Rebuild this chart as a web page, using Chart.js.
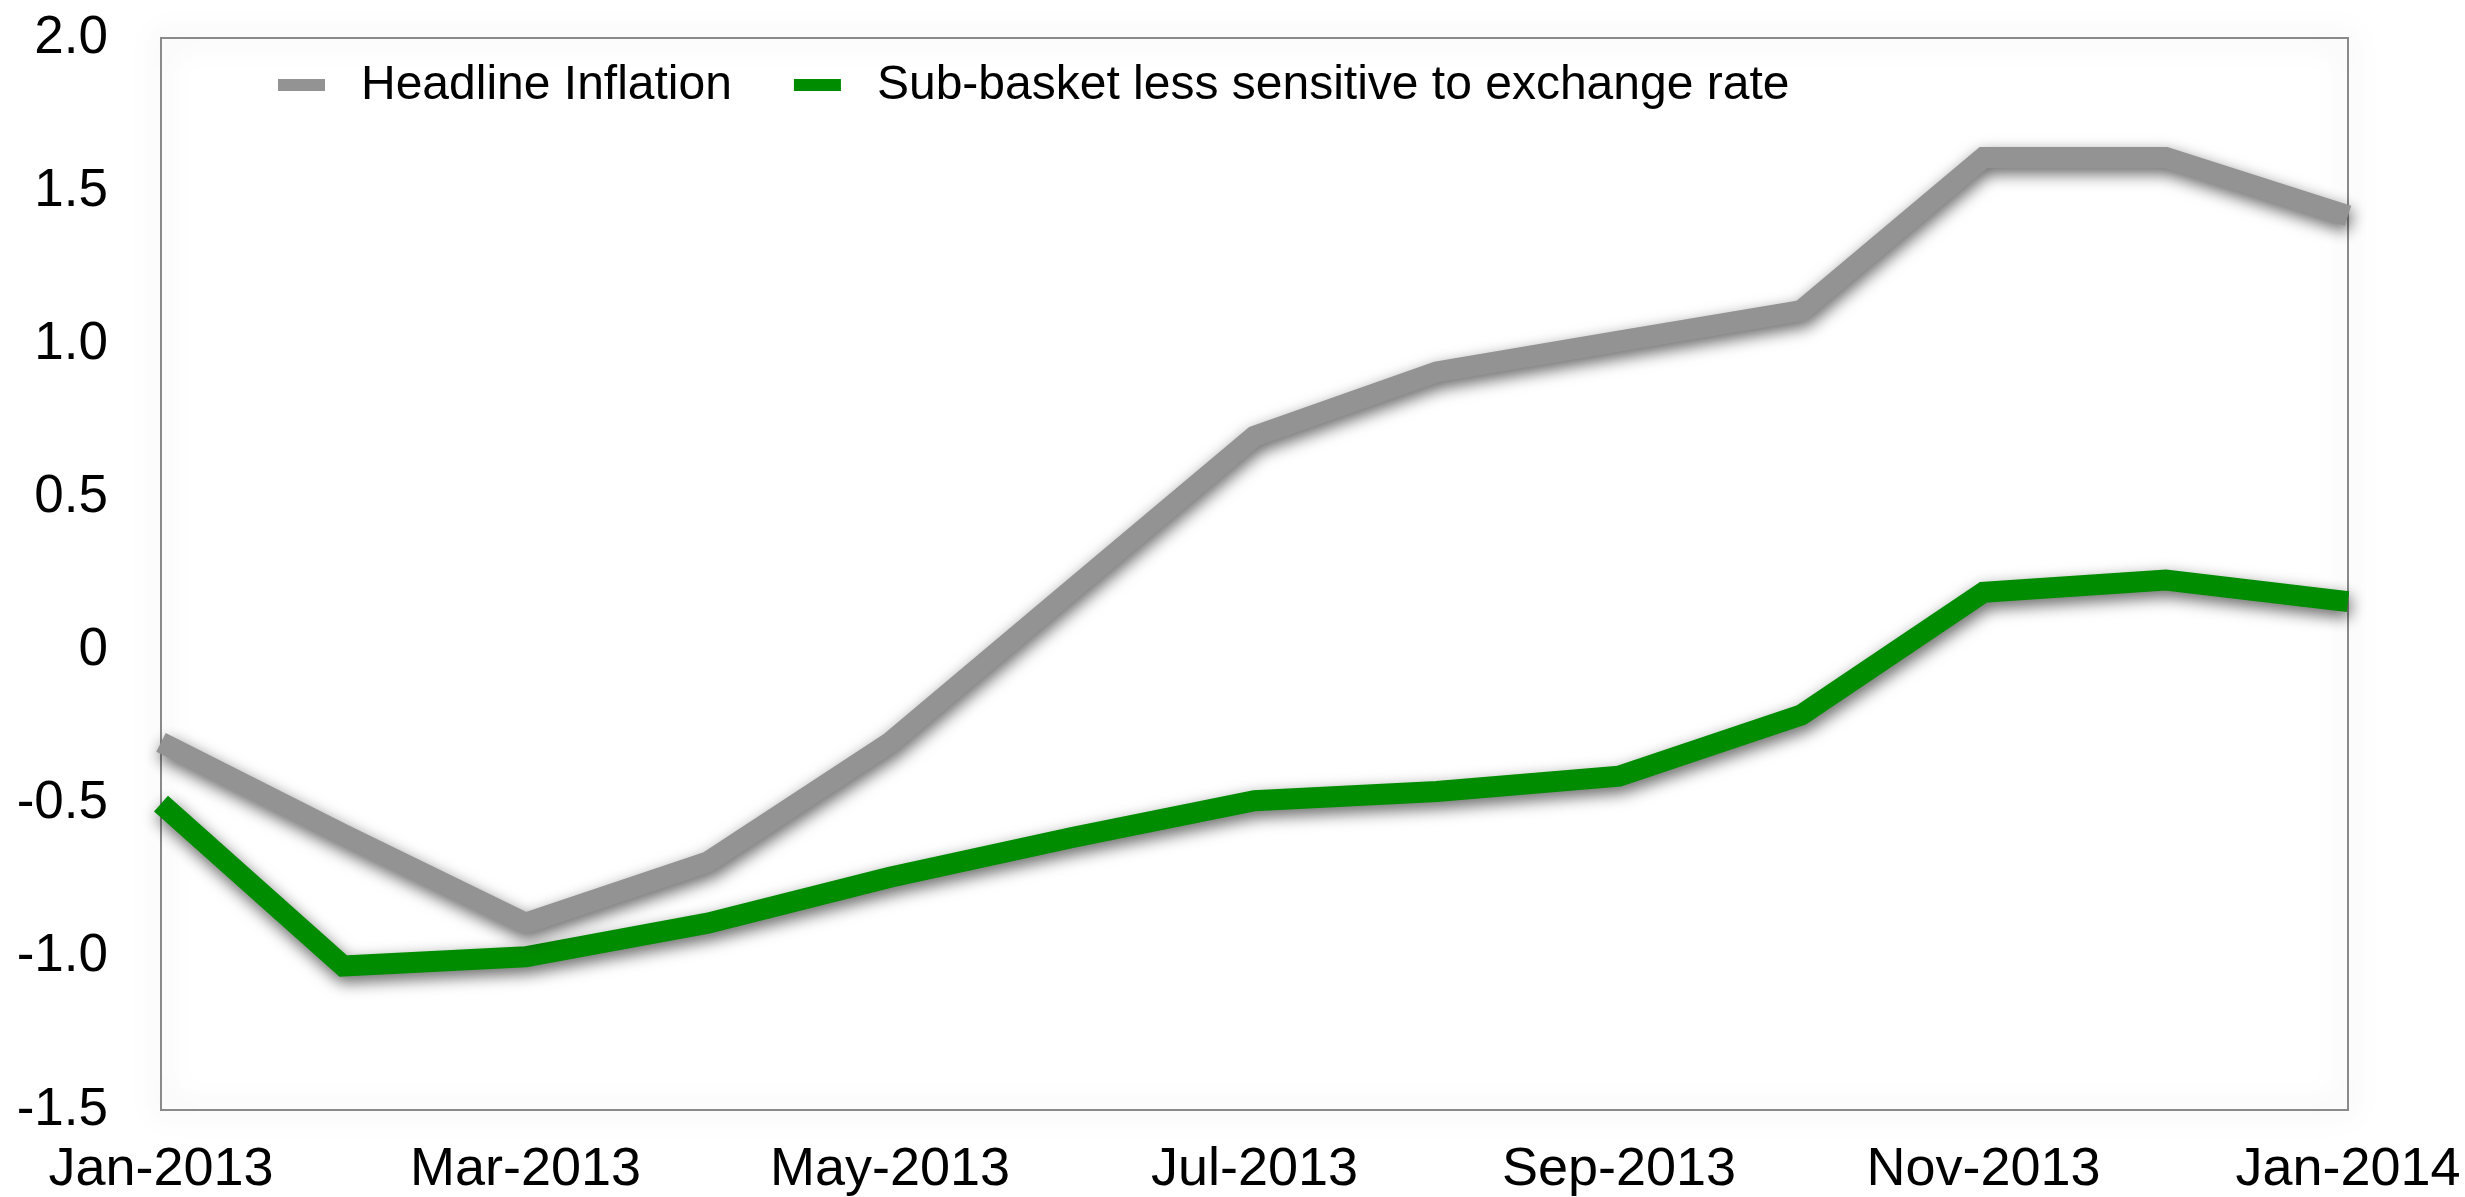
<!DOCTYPE html>
<html>
<head>
<meta charset="utf-8">
<title>Headline inflation vs. sub-basket less sensitive to exchange rate</title>
<script src="https://cdn.jsdelivr.net/npm/chart.js@4.4.1/dist/chart.umd.min.js"></script>
<style>
  html, body { margin: 0; padding: 0; background: #ffffff; }
  #wrap { width: 2465px; height: 1197px; position: relative; }
  canvas { display: block; }
</style>
</head>
<body>
<div id="wrap"><canvas id="chart" width="2465" height="1197"></canvas></div>
<script>
// Monthly categories on the x axis
const months = [
  'Jan-2013', 'Feb-2013', 'Mar-2013', 'Apr-2013', 'May-2013', 'Jun-2013', 'Jul-2013',
  'Aug-2013', 'Sep-2013', 'Oct-2013', 'Nov-2013', 'Dec-2013', 'Jan-2014'
];

// Series values (percent)
const headlineInflation = [-0.30, -0.60, -0.89, -0.69, -0.30, 0.20, 0.70, 0.91, 1.01, 1.11, 1.61, 1.61, 1.42];
const subBasket = [-0.50, -1.03, -1.00, -0.89, -0.74, -0.61, -0.49, -0.46, -0.41, -0.21, 0.19, 0.23, 0.16];

// Series names
const seriesNames = ['Headline Inflation', 'Sub-basket less sensitive to exchange rate'];

// Y tick labels, bottom to top
const yTickLabels = ['-1.5', '-1.0', '-0.5', '0', '0.5', '1.0', '1.5', '2.0'];

const FONT = '"Liberation Sans", Arial, Helvetica, sans-serif';
const GREY = '#939393';
const GREEN = '#008c00';

// Framed plot area with a soft shadow on both sides of the border
const framePlugin = {
  id: 'frame',
  beforeDraw(chart) {
    const { ctx, chartArea: a } = chart;
    ctx.save();
    ctx.shadowColor = 'rgba(0,0,0,0.28)';
    ctx.shadowBlur = 30;
    ctx.strokeStyle = '#8a8a8a';
    ctx.lineWidth = 2;
    ctx.strokeRect(a.left, a.top, a.right - a.left, a.bottom - a.top);
    ctx.shadowBlur = 0;
    ctx.shadowColor = 'transparent';
    ctx.strokeRect(a.left, a.top, a.right - a.left, a.bottom - a.top);
    ctx.restore();
  }
};

// Drop shadow under each line
const lineShadowPlugin = {
  id: 'lineShadow',
  beforeDatasetDraw(chart) {
    const ctx = chart.ctx;
    ctx.save();
    ctx.shadowColor = 'rgba(0,0,0,0.6)';
    ctx.shadowBlur = 16;
    ctx.shadowOffsetX = 2;
    ctx.shadowOffsetY = 6;
  },
  afterDatasetDraw(chart) {
    chart.ctx.restore();
  }
};

// Legend drawn inside the top of the plot area
const insideLegendPlugin = {
  id: 'insideLegend',
  afterDraw(chart) {
    const ctx = chart.ctx;
    const a = chart.chartArea;
    const fontSize = 48;
    const markerW = 47, markerH = 12, markerGap = 36, itemGap = 62;
    let x = a.left + 117;
    const yMid = a.top + 47;
    ctx.save();
    ctx.font = fontSize + 'px ' + FONT;
    ctx.textBaseline = 'middle';
    ctx.textAlign = 'left';
    chart.data.datasets.forEach(ds => {
      ctx.fillStyle = ds.borderColor;
      ctx.fillRect(x, yMid - markerH / 2, markerW, markerH);
      x += markerW + markerGap;
      ctx.fillStyle = '#000000';
      ctx.fillText(ds.label, x, yMid + 1);
      x += ctx.measureText(ds.label).width + itemGap;
    });
    ctx.restore();
  }
};

// Keep the plot rectangle fixed: labels may overhang the layout padding
function clearScalePadding(scale) {
  scale.paddingTop = 0;
  scale.paddingBottom = 0;
  scale.paddingLeft = 0;
  scale.paddingRight = 0;
}

new Chart(document.getElementById('chart'), {
  type: 'line',
  data: {
    labels: months,
    datasets: [
      {
        label: seriesNames[0],
        data: headlineInflation,
        borderColor: GREY,
        backgroundColor: GREY,
        borderWidth: 21,
        borderCapStyle: 'butt',
        borderJoinStyle: 'miter',
        pointRadius: 0,
        tension: 0,
        clip: false
      },
      {
        label: seriesNames[1],
        data: subBasket,
        borderColor: GREEN,
        backgroundColor: GREEN,
        borderWidth: 21,
        borderCapStyle: 'butt',
        borderJoinStyle: 'miter',
        pointRadius: 0,
        tension: 0,
        clip: false
      }
    ]
  },
  options: {
    responsive: false,
    animation: false,
    devicePixelRatio: 1,
    layout: { padding: { top: 38, right: 117, bottom: 0, left: 0 } },
    plugins: {
      legend: { display: false },
      tooltip: { enabled: false }
    },
    scales: {
      x: {
        type: 'category',
        offset: false,
        grid: { display: false, drawTicks: false },
        border: { display: false },
        ticks: {
          autoSkip: false,
          maxRotation: 0,
          minRotation: 0,
          padding: 28,
          color: '#000000',
          font: { family: FONT, size: 54 },
          callback: (value, index) => (index % 2 === 0 ? months[index] : '')
        },
        afterFit(scale) { scale.height = 87; clearScalePadding(scale); }
      },
      y: {
        min: -1.5,
        max: 2.0,
        grid: { display: false, drawTicks: false },
        border: { display: false },
        ticks: {
          stepSize: 0.5,
          padding: 53,
          color: '#000000',
          font: { family: FONT, size: 53 },
          callback: (value, index) => yTickLabels[index]
        },
        afterFit(scale) { scale.width = 161; clearScalePadding(scale); }
      }
    }
  },
  plugins: [framePlugin, lineShadowPlugin, insideLegendPlugin]
});
</script>
</body>
</html>
